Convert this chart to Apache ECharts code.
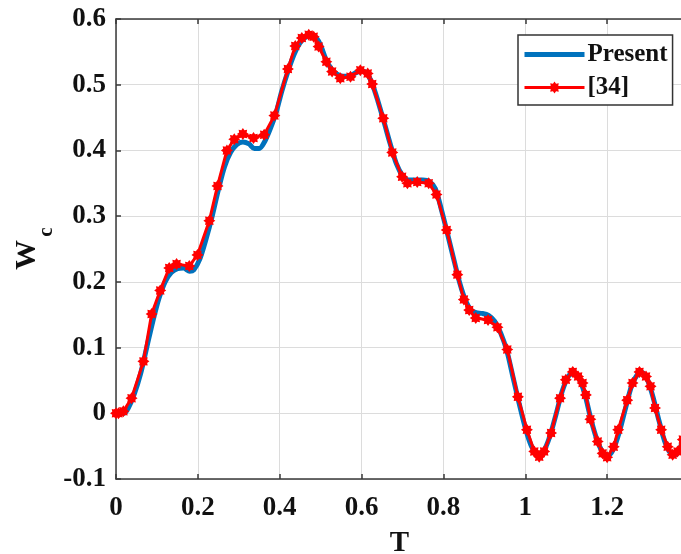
<!DOCTYPE html>
<html>
<head>
<meta charset="utf-8">
<script src="https://cdn.jsdelivr.net/npm/echarts@6/dist/echarts.min.js"></script>
<style>
  html, body { margin: 0; padding: 0; background: #fff; }
  #chart { width: 681px; height: 554px; }
</style>
</head>
<body>
<div id="chart"></div>
<script>
// Present solution: dimensionless time T and response Wc
const presentT = [0, 0.02, 0.03, 0.045, 0.06, 0.075, 0.09, 0.105, 0.12, 0.135, 0.15, 0.165, 0.18, 0.19,
  0.205, 0.22, 0.235, 0.25, 0.265, 0.28, 0.295, 0.31, 0.325, 0.338, 0.35, 0.362, 0.375, 0.39, 0.405,
  0.42, 0.435, 0.45, 0.465, 0.478, 0.49, 0.5, 0.512, 0.525, 0.54, 0.555, 0.57, 0.585, 0.6, 0.612,
  0.625, 0.64, 0.655, 0.67, 0.685, 0.7, 0.715, 0.73, 0.75, 0.765, 0.78, 0.795, 0.81, 0.825, 0.84,
  0.855, 0.868, 0.88, 0.895, 0.91, 0.925, 0.94, 0.955, 0.97, 0.985, 1.0, 1.015, 1.03, 1.045, 1.06,
  1.075, 1.09, 1.105, 1.118, 1.13, 1.145, 1.16, 1.175, 1.19, 1.202, 1.215, 1.23, 1.245, 1.26, 1.275,
  1.285, 1.298, 1.312, 1.327, 1.342, 1.357, 1.368, 1.38, 1.39, 1.4];
const presentW = [0, 0, 0.008, 0.03, 0.06, 0.1, 0.14, 0.175, 0.2, 0.214, 0.22, 0.221, 0.216, 0.218,
  0.235, 0.265, 0.3, 0.34, 0.375, 0.397, 0.409, 0.413, 0.41, 0.403, 0.403, 0.412, 0.43, 0.455, 0.49,
  0.52, 0.546, 0.564, 0.573, 0.576, 0.571, 0.56, 0.54, 0.525, 0.516, 0.513, 0.513, 0.518, 0.521, 0.518,
  0.503, 0.475, 0.443, 0.41, 0.38, 0.362, 0.355, 0.355, 0.355, 0.353, 0.342, 0.31, 0.273, 0.235, 0.198,
  0.17, 0.157, 0.153, 0.152, 0.149, 0.14, 0.122, 0.095, 0.055, 0.015, -0.022, -0.05, -0.062, -0.057, -0.035,
  -0.002, 0.033, 0.056, 0.062, 0.055, 0.03, -0.008, -0.04, -0.06, -0.064, -0.055, -0.028, 0.008, 0.042, 0.06,
  0.062, 0.052, 0.025, -0.012, -0.045, -0.062, -0.063, -0.05, -0.032, -0.012];

// Reference [34] solution
const refT = [0, 0.006, 0.018, 0.038, 0.067, 0.087, 0.108, 0.13, 0.148, 0.179, 0.199, 0.228, 0.248,
  0.271, 0.289, 0.31, 0.336, 0.362, 0.387, 0.42, 0.438, 0.454, 0.471, 0.483, 0.495, 0.514, 0.528,
  0.548, 0.573, 0.597, 0.615, 0.626, 0.653, 0.675, 0.699, 0.712, 0.736, 0.764, 0.783, 0.808, 0.834,
  0.85, 0.863, 0.879, 0.909, 0.932, 0.956, 0.982, 1.004, 1.022, 1.034, 1.046, 1.063, 1.085, 1.099,
  1.116, 1.129, 1.14, 1.148, 1.159, 1.177, 1.189, 1.2, 1.216, 1.227, 1.249, 1.262, 1.279, 1.295,
  1.306, 1.317, 1.332, 1.348, 1.36, 1.372, 1.385, 1.4];
const refW = [0, 0, 0.003, 0.023, 0.079, 0.151, 0.187, 0.221, 0.227, 0.224, 0.241, 0.293, 0.346,
  0.4, 0.417, 0.425, 0.419, 0.424, 0.453, 0.524, 0.559, 0.571, 0.576, 0.573, 0.558, 0.535, 0.52,
  0.51, 0.512, 0.522, 0.517, 0.501, 0.449, 0.397, 0.36, 0.35, 0.352, 0.35, 0.333, 0.279, 0.211,
  0.173, 0.157, 0.145, 0.142, 0.131, 0.097, 0.025, -0.025, -0.058, -0.066, -0.058, -0.03, 0.023, 0.051,
  0.063, 0.056, 0.046, 0.028, -0.009, -0.043, -0.061, -0.067, -0.051, -0.025, 0.02, 0.046, 0.063, 0.056,
  0.041, 0.008, -0.025, -0.051, -0.063, -0.058, -0.04, -0.005];

const seriesNames = ['Present', '[34]'];
const xRange = [0, 1.4];
const yRange = [-0.1, 0.6];

const FONT = '"Liberation Serif", "Times New Roman", serif';
const TEXT = '#111';

// filled eight-pointed star marker
const starMarker = (() => {
  let d = '';
  for (let k = 0; k < 16; k++) {
    const a = k * Math.PI / 8;
    const r = k % 2 ? 0.68 : 1;
    d += (k ? 'L' : 'M') + (Math.cos(a) * r).toFixed(3) + ' ' + (Math.sin(a) * r).toFixed(3) + ' ';
  }
  return 'path://' + d + 'Z';
})();

const zip = (xs, ys) => xs.map((x, i) => [x, ys[i]]);

const chart = echarts.init(document.getElementById('chart'), null, { renderer: 'canvas' });

const axisLine = { show: true, onZero: false, lineStyle: { color: '#3a3a3a', width: 1.5 } };
const tickIn = { show: true, inside: true, length: 5, lineStyle: { color: '#3a3a3a', width: 1.5 } };
const grid = { show: true, lineStyle: { color: '#dcdcdc', width: 1 } };

chart.setOption({
  backgroundColor: '#fff',
  animation: false,
  grid: { left: 116, top: 19, width: 573, height: 460, containLabel: false, outerBoundsMode: 'none' },
  xAxis: [
    {
      type: 'value', min: xRange[0], max: xRange[1], interval: 0.2,
      name: 'T', nameLocation: 'middle', nameGap: 50,
      nameTextStyle: { fontFamily: FONT, fontWeight: 'bold', fontSize: 29, color: TEXT, padding: [0, 6, 0, 0] },
      axisLine, axisTick: tickIn, splitLine: grid,
      axisLabel: {
        margin: 16, fontFamily: FONT, fontWeight: 'bold', fontSize: 27, color: TEXT,
        formatter: v => (v >= 1.39 ? '' : String(+v.toFixed(1)))
      }
    },
    {
      type: 'value', position: 'top', min: xRange[0], max: xRange[1], interval: 0.2,
      axisLine, axisTick: tickIn, axisLabel: { show: false }, splitLine: { show: false }
    }
  ],
  yAxis: {
    type: 'value', min: yRange[0], max: yRange[1], interval: 0.1,
    axisLine, axisTick: tickIn, splitLine: grid,
    axisLabel: {
      margin: 10, fontFamily: FONT, fontWeight: 'bold', fontSize: 27, color: TEXT,
      formatter: v => String(+v.toFixed(1))
    }
  },
  // vertical axis title W with subscript c, reading bottom to top
  graphic: [{
    type: 'group', x: 27, y: 255, rotation: Math.PI / 2,
    children: [
      { type: 'text', x: 0, y: 0, style: { text: 'W', fill: TEXT, font: 'bold 30px ' + FONT, align: 'center', verticalAlign: 'middle' } },
      { type: 'text', x: 23, y: 20, style: { text: 'c', fill: TEXT, font: 'bold 21px ' + FONT, align: 'center', verticalAlign: 'middle' } }
    ]
  }],
  legend: {
    data: [
      { name: seriesNames[0], itemStyle: { opacity: 0 }, lineStyle: { width: 5 } },
      { name: seriesNames[1], lineStyle: { width: 3 } }
    ],
    orient: 'vertical',
    left: 518, top: 35,
    width: 155,
    backgroundColor: '#fff',
    borderColor: '#333', borderWidth: 1.5,
    padding: [7, 5, 5, 4],
    itemWidth: 60, itemHeight: 15, itemGap: 8,
    textStyle: { fontFamily: FONT, fontWeight: 'bold', fontSize: 25, color: TEXT, padding: [0, 0, 0, -2] }
  },
  series: [
    {
      name: seriesNames[0], type: 'line',
      data: zip(presentT, presentW),
      smooth: 0.3, showSymbol: false, symbol: 'none',
      lineStyle: { color: '#0072BD', width: 5 },
      itemStyle: { color: '#0072BD' },
      z: 2
    },
    {
      name: seriesNames[1], type: 'line',
      data: zip(refT, refW),
      symbol: starMarker, symbolSize: 12, showSymbol: true,
      lineStyle: { color: '#FF0000', width: 3 },
      itemStyle: { color: '#FF0000' },
      z: 3
    }
  ]
});
</script>
</body>
</html>
